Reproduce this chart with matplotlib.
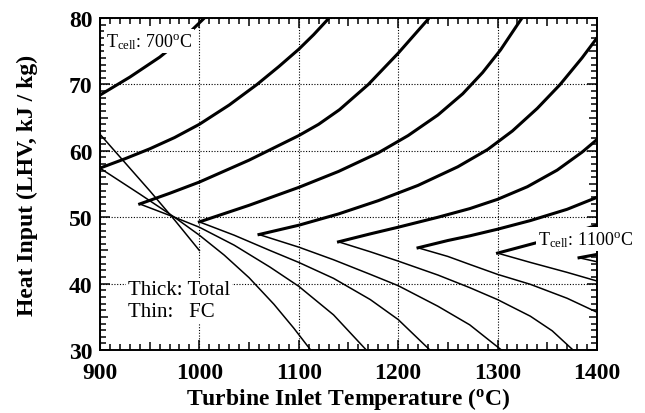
import matplotlib.pyplot as plt
from matplotlib.ticker import MultipleLocator

plt.rcParams['font.family'] = 'Liberation Serif'
plt.rcParams['mathtext.fontset'] = 'custom'
plt.rcParams['mathtext.rm'] = 'Liberation Serif'
plt.rcParams['mathtext.it'] = 'Liberation Serif:italic'
plt.rcParams['mathtext.bf'] = 'Liberation Serif:bold'

# fuel cell operating temperature for each pair of curves (deg C)
cell_temps = [700, 750, 800, 850, 900, 950, 1000, 1050, 1100]

# total heat input (thick lines): turbine inlet temperature vs kJ/kg
total_tit = [
    [900, 930, 960, 985, 1005],
    [900, 925, 950, 975, 1000, 1030, 1058, 1080, 1100, 1115, 1128, 1131],
    [940, 970, 1000, 1050, 1100, 1120, 1141, 1170, 1200, 1230, 1231],
    [1000, 1050, 1100, 1140, 1180, 1210, 1240, 1265, 1285, 1303, 1320, 1325],
    [1060, 1100, 1140, 1180, 1220, 1260, 1290, 1315, 1340, 1363, 1385, 1400],
    [1140, 1172, 1200, 1240, 1272, 1300, 1330, 1360, 1385, 1400],
    [1220, 1250, 1272, 1300, 1333, 1370, 1400],
    [1300, 1320, 1340, 1370, 1400],
    [1382, 1400],
]
total_heat = [
    [68.4, 71.1, 74.1, 77.1, 80.0],
    [57.4, 58.8, 60.3, 62.0, 64.0, 66.9, 70.0, 72.7, 75.3, 77.5, 79.6, 80.1],
    [52.0, 53.6, 55.3, 58.6, 62.3, 64.0, 66.2, 70.0, 74.7, 79.8, 80.0],
    [49.3, 51.8, 54.5, 56.9, 59.7, 62.3, 65.4, 68.6, 71.8, 75.2, 79.0, 80.1],
    [47.4, 48.8, 50.5, 52.5, 54.8, 57.6, 60.2, 63.0, 66.4, 70.0, 74.0, 77.0],
    [46.3, 47.5, 48.5, 50.0, 51.3, 52.7, 54.6, 57.1, 59.8, 61.7],
    [45.4, 46.5, 47.2, 48.2, 49.5, 51.2, 53.0],
    [44.6, 45.4, 46.2, 47.4, 48.8],
    [43.9, 44.4],
]

# fuel cell heat input (thin lines)
fc_tit = [
    [900, 950, 975, 1000],
    [900, 940, 975, 1000, 1025, 1050, 1075, 1095, 1112],
    [940, 975, 1000, 1035, 1071, 1100, 1135, 1168],
    [1000, 1035, 1071, 1100, 1135, 1172, 1200, 1232],
    [1060, 1100, 1135, 1172, 1200, 1240, 1272, 1304],
    [1140, 1172, 1200, 1240, 1272, 1300, 1333, 1355, 1376],
    [1220, 1250, 1272, 1300, 1333, 1370, 1400],
    [1300, 1333, 1370, 1400],
    [1382, 1400],
]
fc_heat = [
    [62.5, 54.0, 49.6, 45.0],
    [57.4, 53.5, 50.0, 47.3, 44.3, 40.9, 36.9, 33.3, 30.0],
    [52.0, 50.0, 48.5, 45.8, 42.5, 39.6, 35.3, 30.0],
    [49.3, 47.3, 45.0, 43.2, 40.8, 37.6, 34.6, 30.0],
    [47.4, 45.5, 43.6, 41.4, 39.7, 36.6, 33.8, 30.0],
    [46.3, 44.8, 43.4, 41.3, 39.4, 37.6, 35.1, 32.9, 30.0],
    [45.4, 44.1, 42.9, 41.4, 39.9, 37.8, 35.7],
    [44.6, 43.2, 41.7, 40.4],
    [43.9, 43.3],
]

fig = plt.figure(figsize=(6.45, 4.14), dpi=100)
ax = fig.add_axes([0.155, 0.152, 0.7705, 0.802])

for x, y in zip(total_tit, total_heat):
    ax.plot(x, y, color='black', lw=2.2, solid_joinstyle='round')
for x, y in zip(fc_tit, fc_heat):
    ax.plot(x, y, color='black', lw=1.1, solid_joinstyle='round')

ax.set_xlim(900, 1400)
ax.set_ylim(30, 80)
ax.xaxis.set_major_locator(MultipleLocator(100))
ax.xaxis.set_minor_locator(MultipleLocator(10))
ax.yaxis.set_major_locator(MultipleLocator(10))
ax.yaxis.set_minor_locator(MultipleLocator(1))

ax.set_axisbelow(True)
ax.grid(True, which='major', color='black', linestyle=(0, (1, 1.5)), linewidth=0.8)

ax.tick_params(which='both', direction='in', top=True, right=True, width=1.1)
ax.tick_params(which='major', length=7.2, labelsize=17, pad=5.5)
ax.tick_params(axis='x', which='major', pad=8.4)
ax.tick_params(which='minor', length=4.1)
for s in ax.spines.values():
    s.set_linewidth(1.4)

ax.set_xlabel(r'Turbine Inlet Temperature ($^{\mathbf{o}}$C)', fontsize=17, fontweight='bold')
ax.set_ylabel('Heat Input (LHV, kJ / kg)', fontsize=17, fontweight='bold')
ax.xaxis.set_label_coords(0.5, -0.104)
ax.yaxis.set_label_coords(-0.124, 0.5)

box = dict(facecolor='white', edgecolor='none', pad=1.5)
ax.text(906, 75.8, r'T$_{\mathrm{cell}}$: %d$^{\mathrm{o}}$C' % cell_temps[0],
        fontsize=13, bbox=box, zorder=5)
ax.text(1340.5, 46.0, r'T$_{\mathrm{cell}}$: %d$^{\mathrm{o}}$C' % cell_temps[-1],
        fontsize=13, bbox=box, zorder=5, clip_on=False)
ax.text(928, 38.5, 'Thick: Total', fontsize=15, bbox=box, zorder=5)
ax.text(928, 35.1, 'Thin:   FC', fontsize=15, bbox=box, zorder=5)

# bold tick labels; half-way minor ticks (every 50 deg C, every 5 kJ/kg) a bit longer
fig.canvas.draw()
for lbl in ax.get_xticklabels() + ax.get_yticklabels():
    lbl.set_fontweight('bold')
for tick in ax.xaxis.get_minor_ticks():
    if round(tick.get_loc()) % 50 == 0:
        tick.tick1line.set_markersize(5.8)
        tick.tick2line.set_markersize(5.8)
for tick in ax.yaxis.get_minor_ticks():
    if round(tick.get_loc()) % 5 == 0:
        tick.tick1line.set_markersize(5.8)
        tick.tick2line.set_markersize(5.8)

fig.savefig('out.png', dpi=100)
